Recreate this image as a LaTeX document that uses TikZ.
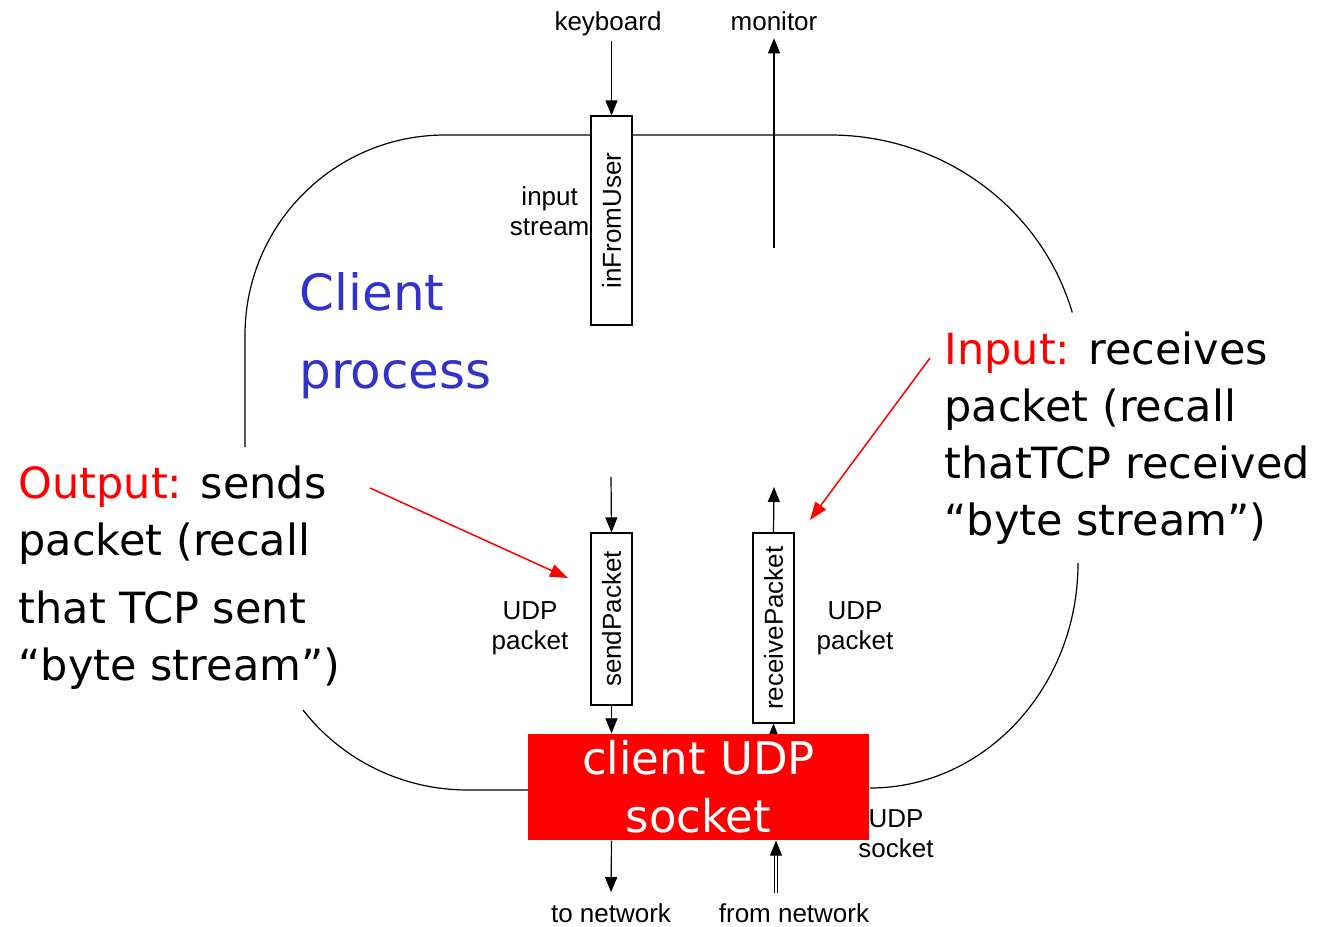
\documentclass[tikz,border=0pt]{standalone}
\usepackage{fontspec}
\setmainfont{Liberation Sans}
\newfontfamily\comicfont{DejaVu Sans}
\usetikzlibrary{arrows.meta,backgrounds}
\definecolor{procblue}{RGB}{51,51,204}
\definecolor{sockred}{RGB}{255,0,0}

\begin{document}
\begin{tikzpicture}[
    x=1pt,
    y=-1pt,
    line width=1.2pt,
    every node/.style={font=\fontsize{26}{30}\selectfont, inner sep=0pt},
    arr/.style={-{Triangle[length=15pt,width=12pt]}},
    redarr/.style={sockred,line width=1.5pt,-{Triangle[length=18pt,width=13pt]}},
    pipe/.style={draw,fill=white,rotate=90,minimum height=41pt},
    big/.style={font=\comicfont\fontsize{43}{57}\selectfont,align=left}
]

\useasboundingbox (0,0) rectangle (1337,926);

% process outline
\draw (245,447) -- (245,335) arc[start angle=180,end angle=270,radius=200]
      -- (830,135) arc[start angle=270,end angle=344,x radius=252,y radius=245];
\draw (1078,563) arc[start angle=0,end angle=90,x radius=208,y radius=225];
\draw (303,710) arc[start angle=142,end angle=90,radius=208] -- (528,790);

% streams
\node[pipe,minimum width=209pt] (inFromUser) at (611.5,220.5) {inFromUser};
\node[pipe,minimum width=172pt] (sendPacket) at (611.5,619) {sendPacket};
\node[pipe,minimum width=190pt] (receivePacket) at (773.5,628) {receivePacket};

% socket
\node[fill=sockred,minimum width=341pt,minimum height=106pt,text=white,
      font=\comicfont\fontsize{45}{58}\selectfont,align=center]
      (socket) at (698.5,787) {client UDP\\socket};

% labels
\node[anchor=base,outer sep=6pt] (keyboard) at (608,30) {keyboard};
\node[anchor=base,outer sep=8pt] (monitor) at (774,30) {monitor};
\node[align=center,anchor=east] (inLbl) at (590,211) {input\\stream};
\node[align=center] (sendLbl) at (530,628) {UDP\\packet};
\node[align=center] (recvLbl) at (855,628) {UDP\\packet};
\node[align=center] (sockLbl) at (896,834) {UDP\\socket};
\node[anchor=base,outer sep=11pt] (toNetwork) at (611,922) {to network};
\node[anchor=base] (fromNetwork) at (794,922) {from network};

\node[big,text=procblue,anchor=west,font=\comicfont\fontsize{50}{78}\selectfont]
      (procLbl) at (299,336) {Client\\process};
\node[big,anchor=west] (outText) at (18,578)
      {\textcolor{sockred}{Output:} sends\\packet (recall\\[11pt]that TCP sent\\“byte stream”)};
\node[big,anchor=west] (inText) at (944,438)
      {\textcolor{sockred}{Input:} receives\\packet (recall\\thatTCP received\\“byte stream”)};

% data flow
\coordinate (monTail) at (774,248);
\coordinate (sendIn) at (611,477);
\coordinate (recvOut) at (774,487);
\coordinate (netIn) at (776,893);

\draw[arr] (inFromUser.east |- keyboard.south) -- (inFromUser.east);
\draw[arr] (monTail) -- (monitor.south);
\draw[arr] (sendIn) -- (sendPacket.east);
\draw[arr] (receivePacket.east) -- (recvOut);
\begin{scope}[on background layer]
\draw[arr] (sendPacket.west) -- (sendPacket.west |- socket.north);
\draw[arr] (receivePacket.west |- socket.north) -- (receivePacket.west);
\end{scope}
\draw[arr] (sendPacket.west |- socket.south) -- (toNetwork.north);
\draw[arr,double,double distance=2pt,line width=1pt] (netIn) -- (netIn |- socket.south);

% callouts
\coordinate (outTail) at (370,488);
\coordinate (outTip) at (568,578);
\coordinate (inTail) at (930,358);
\coordinate (inTip) at (810,520);
\draw[redarr] (outTail) -- (outTip);
\draw[redarr] (inTail) -- (inTip);

\end{tikzpicture}
\end{document}
